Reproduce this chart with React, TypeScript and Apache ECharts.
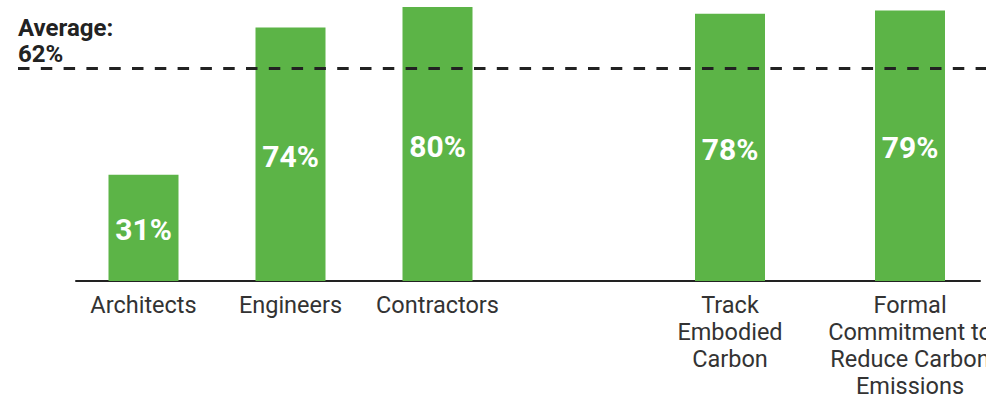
import React, { useEffect, useRef } from "react";
import * as echarts from "echarts";

const groupACategories = ["Architects", "Engineers", "Contractors"];
const groupAValues = [31, 74, 80];
const groupBCategories = ["Track\nEmbodied\nCarbon", "Formal\nCommitment to\nReduce Carbon\nEmissions"];
const groupBValues = [78, 79];
const averageValue = 62;

const GREEN = "#5cb447";
const FONT = "Roboto";

export default function App() {
  const ref = useRef<HTMLDivElement>(null);
  useEffect(() => {
    if (!ref.current) return;
    const chart = echarts.init(ref.current, undefined, { renderer: "svg" });
    const top = 7;
    const bottom = 115;
    const gridBase = { top, bottom, outerBoundsMode: "none" as const, containLabel: false };
    const yAxisBase = (gridIndex: number) => ({
      type: "value" as const,
      gridIndex,
      min: 0,
      max: 80,
      show: false,
    });
    const catAxis = (gridIndex: number, data: string[]) => ({
      type: "category" as const,
      gridIndex,
      data,
      axisLine: { show: false },
      axisTick: { show: false },
      axisLabel: {
        interval: 0,
        margin: 10,
        color: "#333333",
        fontFamily: FONT,
        fontSize: 23.5,
        lineHeight: 27,
      },
    });
    const barLabel = {
      show: true,
      position: "inside" as const,
      offset: [0, 2],
      color: "#ffffff",
      fontFamily: FONT,
      fontWeight: "bold" as const,
      fontSize: 30,
      formatter: "{c}%",
    };
    chart.setOption({
      animation: false,
      grid: [
        { ...gridBase, left: 70, width: 441 },
        { ...gridBase, left: 640, width: 360 },
        { ...gridBase, left: 76, width: 904 },
        { ...gridBase, left: 18, width: 990 },
      ],
      xAxis: [
        catAxis(0, groupACategories),
        catAxis(1, groupBCategories),
        {
          type: "value",
          gridIndex: 2,
          min: 0,
          max: 1,
          axisLine: { show: true, lineStyle: { color: "#222222", width: 2 } },
          axisTick: { show: false },
          axisLabel: { show: false },
          splitLine: { show: false },
        },
        {
          type: "category",
          gridIndex: 3,
          data: ["a", "b"],
          boundaryGap: false,
          show: false,
        },
      ],
      yAxis: [yAxisBase(0), yAxisBase(1), yAxisBase(2), yAxisBase(3)],
      series: [
        {
          type: "bar",
          xAxisIndex: 0,
          yAxisIndex: 0,
          data: groupAValues,
          barWidth: 70,
          itemStyle: { color: GREEN },
          label: barLabel,
        },
        {
          type: "bar",
          xAxisIndex: 1,
          yAxisIndex: 1,
          data: groupBValues,
          barWidth: 70,
          itemStyle: { color: GREEN },
          label: barLabel,
        },
        {
          type: "line",
          xAxisIndex: 3,
          yAxisIndex: 3,
          data: [averageValue, averageValue],
          showSymbol: false,
          lineStyle: { opacity: 0 },
          silent: true,
          markLine: {
            silent: true,
            symbol: ["none", "none"],
            lineStyle: { color: "#222222", width: 3, type: [11.5, 11.3] },
            label: {
              show: true,
              position: "insideStartTop",
              distance: [0, 2],
              formatter: "Average:\n{c}%",
              color: "#222222",
              fontFamily: FONT,
              fontWeight: "bold",
              fontSize: 24,
              lineHeight: 26,
              align: "left",
            },
            data: [{ yAxis: averageValue }],
          },
        },
      ],
    });
    return () => chart.dispose();
  }, []);
  return (
    <div
      style={{ position: "absolute", left: 0, top: 0, width: 986, height: 396, overflow: "hidden" }}
    >
      <div ref={ref} style={{ width: 1010, height: 396 }} />
    </div>
  );
}
